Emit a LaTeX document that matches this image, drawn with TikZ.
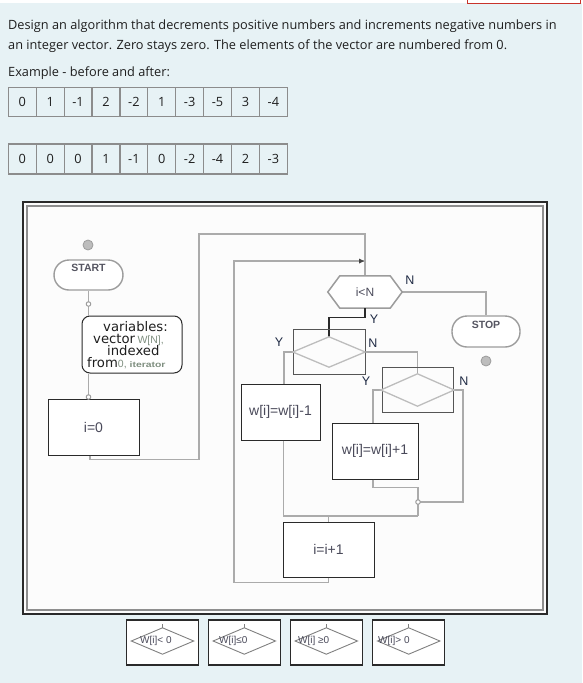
\documentclass[tikz,border=0pt]{standalone}
\usepackage{fontspec}
\setmainfont{Open Sans}
\newfontfamily\arialf{Liberation Sans}
\newfontfamily\verdf{DejaVu Sans}
\usetikzlibrary{arrows.meta,calc}
\definecolor{bgblue}{HTML}{E7F2F5}
\definecolor{txtc}{HTML}{1E1E1E}
\definecolor{cellc}{HTML}{8C8C8C}
\definecolor{connc}{HTML}{ABABAB}
\definecolor{boxc}{HTML}{2A2A2A}
\definecolor{lblc}{HTML}{1F2A44}
\definecolor{boxtxt}{HTML}{4A4A5A}
\definecolor{grn}{HTML}{7F8F80}
\definecolor{shapec}{HTML}{9C9C9C}
\definecolor{diac}{HTML}{BDBDBD}
\definecolor{redc}{HTML}{C8332B}
\definecolor{framein}{HTML}{8E8E8E}
\definecolor{paper}{HTML}{FCFCFC}
\tikzset{
  para/.style={anchor=base west, inner sep=0, font=\fontsize{12.75}{14}\selectfont, text=txtc},
  cell/.style={draw=cellc, line width=1.2pt, minimum width=27.9pt, inner sep=0, font=\fontsize{12.75}{14}\selectfont, text=txtc},
  conn/.style={draw=connc, line width=1.8pt},
  yconn/.style={draw=boxc, line width=1.1pt},
  pbox/.style={draw=boxc, line width=1pt, fill=white, inner sep=0, font=\arialf\fontsize{14}{16}\selectfont, text=boxtxt},
  stadium/.style={draw=shapec, line width=1.4pt, fill=white, rounded corners=15pt, inner sep=0},
  shtxt/.style={inner sep=0, font=\arialf\bfseries\fontsize{10.5}{12}\selectfont, text=boxtxt!80!gray},
  varbox/.style={draw=boxc, line width=1pt, fill=white, rounded corners=8pt, inner sep=0},
  vtxt/.style={anchor=base west, inner sep=0, font=\verdf\fontsize{13.2}{14}\selectfont, text=txtc},
  jdot/.style={circle, draw=shapec, fill=white, line width=1pt, minimum size=4.5pt, inner sep=0},
  bdot/.style={circle, draw=shapec, fill=diac, line width=0.8pt, minimum size=10pt, inner sep=0},
  ghost/.style={inner sep=0},
  hexline/.style={draw=shapec, line width=1.5pt, fill=white},
  dia/.style={draw=diac, line width=1.3pt},
  thinbox/.style={draw=boxc!80!white, line width=0.9pt, inner sep=0},
  yn/.style={inner sep=0, font=\arialf\fontsize{12.5}{14}\selectfont, text=lblc},
  smallbox/.style={draw=boxc, line width=1.2pt, fill=white, inner sep=0, minimum width=72pt, minimum height=45pt},
  smalldia/.style={draw=gray, line width=0.9pt},
  smalltxt/.style={anchor=west, inner sep=0, font=\arialf\fontsize{10}{12}\selectfont, text=boxtxt}
}
\begin{document}
\begin{tikzpicture}[x=1pt,y=-1pt]
\useasboundingbox (0,0) rectangle (582,683);
\fill[bgblue] (0,0) rectangle (582,683);
\fill[white] (0,0) rectangle (582,3);
\draw[redc, line width=1pt] (467,0) -- (467,3) -- (580,3) -- (580,0);

% paragraph
\node[para] (t1) at (8,29) {Design an algorithm that decrements positive numbers and increments negative numbers in};
\node[para] (t2) at (8,49) {an integer vector. Zero stays zero. The elements of the vector are numbered from 0.};
\node[para] (t3) at (8,76) {Example - before and after:};

% tables
\foreach \v [count=\i from 0] in {0,1,-1,2,-2,1,-3,-5,3,-4}
  \node[cell, minimum height=29pt] (a\i) at ({8.3+27.9*\i+13.95},101.8) {\v};
\foreach \v [count=\i from 0] in {0,0,0,1,-1,0,-2,-4,2,-3}
  \node[cell, minimum height=30pt] (b\i) at ({8.3+27.9*\i+13.95},159) {\v};

% frame
\draw[draw=boxc, line width=1.2pt, fill=paper] (23,202) rectangle (547,614);
\draw[framein, line width=1.8pt] (27,206) rectangle (543,610);

% nodes of the flowchart
\node[bdot] (sdot) at (88,245) {};
\node[stadium, minimum width=69pt, minimum height=30pt] (start) at (88.5,275) {};
\node[shtxt] (startt) at (88.5,268) {START};
\node[varbox, minimum width=100pt, minimum height=57pt] (var) at (132,344.5) {};
\node[pbox, minimum width=91pt, minimum height=56pt] (i0) at (93.5,427) {i=0};
\node[ghost, minimum width=74pt, minimum height=32pt] (cond) at (365,292) {};
\node[ghost, minimum width=72pt, minimum height=30pt] (d1) at (329,352) {};
\node[ghost, minimum width=73pt, minimum height=32pt] (d2) at (417.5,390) {};
\node[pbox, minimum width=79pt, minimum height=56pt] (dec) at (280.5,412) {w[i]=w[i]-1};
\node[pbox, minimum width=86pt, minimum height=56pt] (inc) at (375,451) {w[i]=w[i]+1};
\node[pbox, minimum width=91pt, minimum height=55pt] (incr) at (328.5,549.5) {i=i+1};
\node[stadium, minimum width=68pt, minimum height=31pt] (stop) at (486,331.5) {};
\node[shtxt] (stopt) at (486,325) {STOP};
\node[bdot] (edot) at (486,361) {};
\coordinate (ljoin) at (364,261);
\coordinate (mg) at (418,516);

% connectors
\draw[conn] (start.south) -- (start.south |- var.north);
\draw[conn] (start.south |- var.south) -- (start.south |- i0.north);
\draw[conn] ([xshift=-3.5pt]i0.south) -- ++(0,4) -| (199,234) -| (cond.north);
\draw[conn] (incr.south) -- ++(0,5) -| (234,261) -- (ljoin);
\fill[boxc!70!gray] (ljoin) -- ++(-5,-2.5) -- ++(0,5) -- cycle;
\draw[conn] (cond.east) -| (stop.north);
\draw[conn] (d1.west) -| ([xshift=3.5pt]dec.north);
\draw[conn] (d1.east) -| (d2.north);
\draw[conn] (d2.west) -| ([xshift=-2pt]inc.north);
\draw[conn] (d2.east) -- ++(9,0) |- (mg |- 0,502);
\draw[conn] ([xshift=-2pt]inc.south) -- ++(0,8) -| (mg);
\draw[conn] ([xshift=3pt]dec.south) |- (mg);
\draw[conn] (incr.north |- mg) -- (incr.north);

% hexagon
\draw[hexline] (cond.west) -- ([xshift=12pt]cond.north west) -- ([xshift=-12pt]cond.north east)
  -- (cond.east) -- ([xshift=-12pt]cond.south east) -- ([xshift=12pt]cond.south west) -- cycle;
\node[inner sep=0, font=\arialf\fontsize{12}{14}\selectfont, text=boxtxt] (condt) at (365,292) {i<N};
\draw[yconn] (cond.south) -- ++(0,9) -| (d1.north);

% decision boxes
\node[thinbox, minimum width=72pt, minimum height=45pt] (r1) at (329,351.5) {};
\draw[dia] (d1.west) -- (d1.north) -- (d1.east) -- (d1.south) -- cycle;
\node[thinbox, minimum width=71pt, minimum height=45pt] (r2) at (417.5,389.5) {};
\draw[dia] (d2.west) -- (d2.north) -- (d2.east) -- (d2.south) -- cycle;

% junction dots
\node[jdot] (j1) at (88.5,304) {};
\node[jdot] (j2) at (88.5,397) {};
\node[jdot] (j3) at (418,502) {};

% variables text
\node[vtxt] (v1) at (103,331) {variables:};
\node[vtxt] (v2) at (93,343) {vector\hspace{2.5pt}{\arialf\fontsize{10.5}{11}\selectfont\color{grn}W[N],}};
\node[vtxt] (v3) at (107,355) {indexed};
\node[vtxt] (v4) at (87,367) {from{\arialf\fontsize{10.5}{11}\selectfont\color{grn}0,\hspace{3pt}}{\arialf\bfseries\fontsize{8}{9}\selectfont\color{grn}\scalebox{1.3}[1]{iterator}}};

% Y / N labels
\node[yn] (l1) at (410,280) {N};
\node[yn] (l2) at (374,319) {Y};
\node[yn] (l3) at (279,342) {Y};
\node[yn] (l4) at (373,343) {N};
\node[yn] (l5) at (366,381) {Y};
\node[yn] (l6) at (464,381) {N};

% legend boxes at the bottom
\foreach \cx/\tx/\lab [count=\k] in {162.5/140/{W[i]< 0}, 244.3/219/{W[i]≤0}, 326.3/298/{W[i] ≥0}, 408.7/378/{W[i]> 0}} {
  \node[smallbox] (sb\k) at (\cx,642.5) {};
  \node[ghost, minimum width=62pt, minimum height=26pt] (sd\k) at (\cx,641) {};
  \draw[smalldia] (sd\k.west) -- (sd\k.north) -- (sd\k.east) -- (sd\k.south) -- cycle;
  \draw[smalldia] (sd\k.north) -- ++(0,-4);
  \node[smalltxt] (st\k) at (\tx,641) {\lab};
}
\end{tikzpicture}
\end{document}
